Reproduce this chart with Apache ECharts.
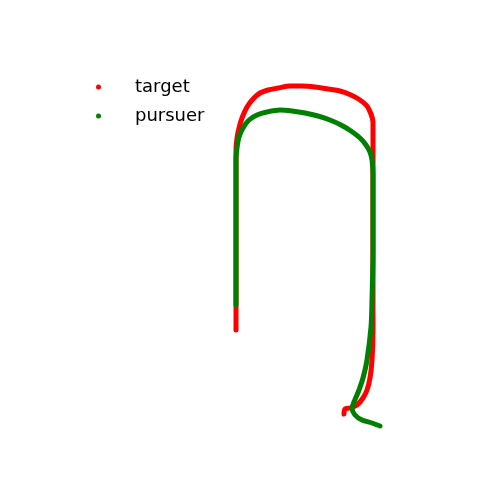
<!DOCTYPE html>
<html>
<head>
<meta charset="utf-8">
<script src="https://cdn.jsdelivr.net/npm/echarts@6/dist/echarts.min.js"></script>
<style>
  html, body { margin: 0; padding: 0; background: #fff; }
  #chart { width: 480px; height: 480px; }
</style>
</head>
<body>
<div id="chart"></div>
<script>
// series names
var names = ['target', 'pursuer'];

// target path
var targetX = [236, 236, 236, 236, 236, 236, 237, 239, 242, 247, 253, 260, 268, 278, 290, 302, 315, 328, 340, 351, 360, 367, 371, 373, 373, 373, 373, 373, 373, 373, 373, 372, 370, 367, 363, 357, 350, 345, 344];
var targetY = [150, 180, 220, 260, 300, 330, 342, 352, 362, 373, 381, 387, 390, 392, 394, 394, 393, 391, 389, 385, 380, 374, 366, 358, 345, 320, 280, 240, 200, 170, 150, 120, 102, 90, 82, 75, 72, 71, 66];

// pursuer path
var pursuerX = [236, 236, 236, 236, 236, 237, 239, 243, 249, 257, 267, 280, 292, 305, 318, 330, 341, 351, 360, 366, 370, 372, 373, 373, 373, 372, 371, 367, 363, 359, 354, 352, 355, 362, 372, 380];
var pursuerY = [175, 210, 250, 290, 320, 332, 343, 352, 360, 365, 368, 370, 369, 367, 364, 360, 355, 349, 342, 335, 328, 320, 305, 270, 230, 180, 153, 120, 102, 90, 78, 72, 65, 60, 57, 54];

function pairs(xs, ys) {
    var out = [];
    for (var i = 0; i < xs.length; i++) {
        out.push([xs[i], ys[i]]);
    }
    return out;
}

var chart = echarts.init(document.getElementById('chart'));

chart.setOption({
    animation: false,
    backgroundColor: '#ffffff',
    grid: { left: 0, right: 0, top: 0, bottom: 0 },
    xAxis: { type: 'value', min: 0, max: 480, show: false },
    yAxis: { type: 'value', min: 0, max: 480, show: false },
    legend: {
        orient: 'vertical',
        left: 91,
        top: 73,
        itemGap: 11,
        icon: 'circle',
        itemWidth: 5,
        itemHeight: 5,
        textStyle: {
            fontFamily: 'DejaVu Sans',
            fontSize: 18,
            color: '#000',
            padding: [0, 0, 0, 29]
        },
        data: names
    },
    series: [
        {
            name: names[0],
            type: 'line',
            data: pairs(targetX, targetY),
            smooth: 0.3,
            showSymbol: false,
            color: '#ff0000',
            lineStyle: { width: 5, cap: 'round', join: 'round' }
        },
        {
            name: names[1],
            type: 'line',
            data: pairs(pursuerX, pursuerY),
            smooth: 0.3,
            showSymbol: false,
            color: '#008000',
            lineStyle: { width: 5, cap: 'round', join: 'round' }
        }
    ]
});
</script>
</body>
</html>
